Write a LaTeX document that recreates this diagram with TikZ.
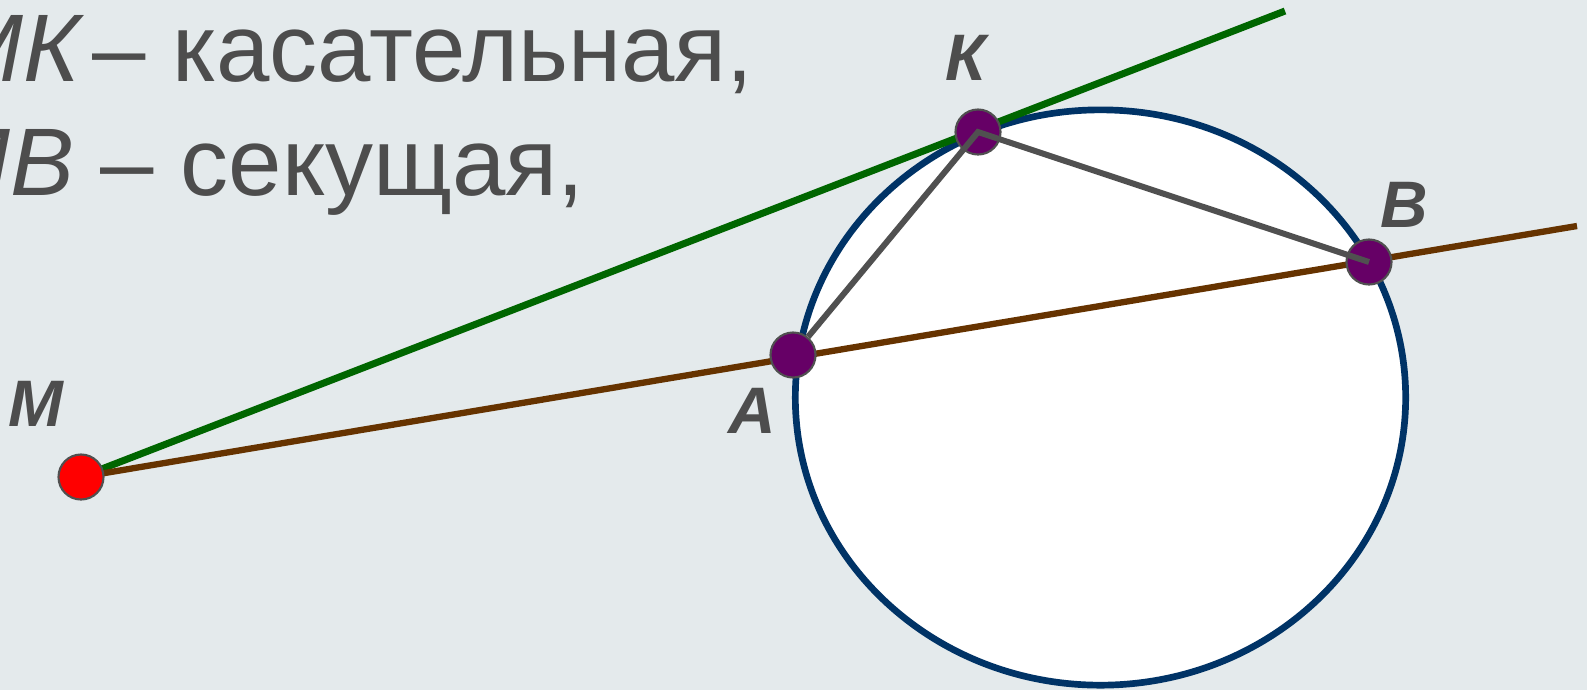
\documentclass[tikz,border=0pt]{standalone}
\usepackage{fontspec}
\setmainfont{Liberation Sans}

\definecolor{bgcol}{HTML}{E4EAEC}
\definecolor{tangcol}{HTML}{006600}
\definecolor{seccol}{HTML}{663300}
\definecolor{chordcol}{HTML}{505050}
\definecolor{circcol}{HTML}{003366}
\definecolor{ptcol}{HTML}{660066}
\definecolor{txtcol}{HTML}{4D4D4D}

\tikzset{
  pt/.style={circle, fill=ptcol, draw=chordcol, line width=0.6pt, minimum size=0.45cm, inner sep=0pt},
  lbl/.style={text=txtcol, font=\fontsize{18.7}{22}\selectfont\bfseries\itshape, inner sep=0pt, anchor=base},
  txt/.style={text=txtcol, font=\fontsize{27.3}{32}\selectfont, inner sep=0pt, anchor=base east}
}

\begin{document}
\begin{tikzpicture}[x=0.01cm, y=-0.01cm]
  % background
  \fill[bgcol] (0,0) rectangle (1587,690);
  \useasboundingbox (0,0) rectangle (1587,690);

  % circle
  \draw[circcol, fill=white, line width=1.9pt] (1100.5,397.5) ellipse [x radius=3.05cm, y radius=2.875cm];

  \coordinate (M) at (81,477);
  \coordinate (A) at (793,355);
  \coordinate (K) at (978,132);
  \coordinate (B) at (1369,262);
  \coordinate (Tend) at (1285,11);
  \coordinate (Send) at (1577,226);

  % tangent and secant
  \draw[tangcol, line width=2pt] (M) -- (Tend);
  \draw[seccol, line width=1.8pt] (M) -- (Send);

  % points
  \node[pt, fill=red] (dM) at (M) {};
  \node[pt] (dA) at (A) {};
  \node[pt] (dK) at (K) {};
  \node[pt] (dB) at (B) {};

  % chords
  \draw[chordcol, line width=1.7pt] (dA) -- (dK.center) -- (dB.center);

  % labels
  \node[lbl] (lK) at (966,80) {К};
  \node[lbl] (lB) at (1404,227) {В};
  \node[lbl] (lM) at (36,426) {М};
  \node[lbl] (lA) at (752,433) {А};

  % text
  \node[txt] (t1) at (754,81) {\textit{МК}\hspace{0.08em}– касательная,};
  \node[txt] (t2) at (585,195) {\textit{МВ} – секущая,};
\end{tikzpicture}
\end{document}
